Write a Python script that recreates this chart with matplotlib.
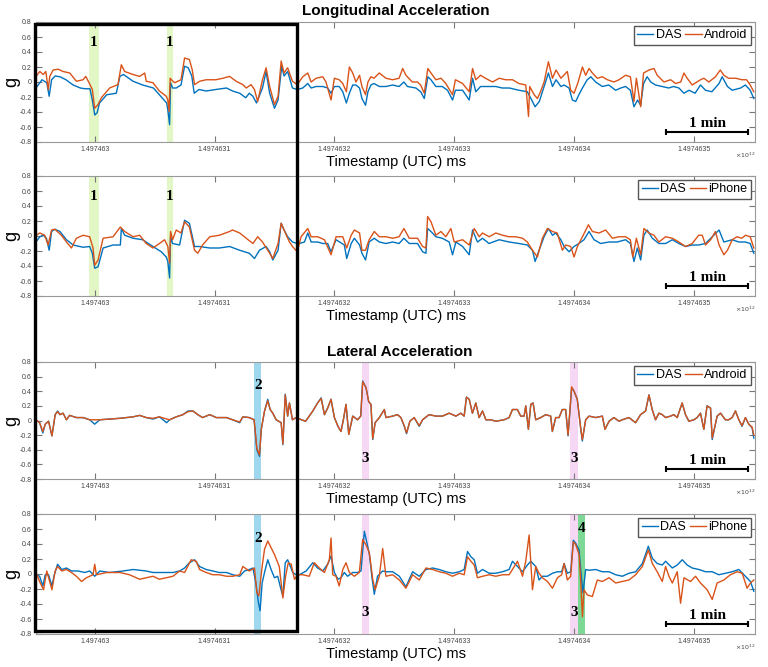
import numpy as np
import matplotlib.pyplot as plt
from matplotlib.patches import Rectangle

plt.rcParams['font.family'] = ['Liberation Sans', 'DejaVu Sans']

# time axis: seconds after T0 (ms)
T0 = 1.497463e12
x_ticks_s = [0, 100, 200, 300, 400, 500]
y_ticks = [-0.8, -0.6, -0.4, -0.2, 0, 0.2, 0.4, 0.6, 0.8]

# ---- Longitudinal, DAS vs Android ----
lon_and_das_t = [-49, -44, -40, -38, -36, -33, -29, -24, -18, -12, -8, -4, -2, 0, 2, 4, 10, 18, 21, 24,
                 32, 40, 49, 54, 60, 61, 62.5, 63.3, 65, 68, 72, 75, 78, 81, 83, 87, 93, 101, 110, 115,
                 121, 126, 129, 132, 135, 140, 143, 146, 150, 153, 156, 158, 161, 165, 169,
                 173.6, 177.8, 180.6, 184.7, 190.3, 194.4, 197.2, 200, 204, 207, 210, 212.5, 215.3, 218, 221,
                 223, 226, 228, 230.5, 233, 237.5, 243, 248.6, 254, 258, 261, 268, 272, 275, 278, 280.6,
                 284.7, 290, 294.4, 298.6, 301, 307, 312.5, 315.3, 318, 322, 329, 334.7, 340, 346, 354, 361,
                 364, 367.5, 371, 375, 378.6, 382, 385, 389, 391.7, 395.8, 398.6, 401.4, 404, 407, 411, 414,
                 418, 423.6, 429, 434.7, 439, 443, 447, 450, 453, 455.6, 458, 461, 464, 468, 473.6, 479, 483,
                 487.5, 491.7, 496, 501, 505.5, 509.7, 515, 521, 523.6, 528, 532, 539, 543, 547, 550]
lon_and_das_g = [-0.08, 0.03, -0.01, -0.19, 0.03, 0.08, 0.07, 0.03, -0.04, -0.08, -0.09, -0.09, -0.24, -0.44,
                 -0.41, -0.28, -0.17, -0.15, 0.075, 0.1, 0.01, -0.04, -0.08, -0.17, -0.28, -0.37, -0.57, -0.01,
                 -0.08, -0.08, -0.04, 0.21, 0.19, 0.08, -0.15, -0.1, -0.12, -0.1, -0.08, -0.12, -0.15, -0.21,
                 -0.15, -0.19, -0.28, -0.08, 0.14, -0.15, -0.35, -0.24, 0.21, 0.08, 0.14, -0.08, -0.1,
                 -0.08, -0.02, -0.08, -0.06, -0.06, -0.08, -0.15, -0.06, -0.06, -0.13, -0.28, -0.15, -0.04,
                 -0.04, -0.08, -0.22, -0.31, -0.13, -0.04, -0.02, -0.06, -0.06, -0.04, -0.06, 0.0, -0.06,
                 -0.08, -0.13, -0.22, 0.07, 0.03, -0.06, -0.06, -0.11, -0.24, -0.11, -0.11, -0.24, 0.05,
                 -0.13, -0.06, -0.06, -0.06, -0.08, -0.08, -0.11, -0.13, -0.22, -0.33, -0.26, -0.06, 0.12,
                 -0.06, 0.03, -0.06, -0.04, -0.08, -0.24, -0.26, -0.17, -0.08, 0.03, 0.07, 0.0, -0.06, -0.04,
                 -0.11, -0.08, -0.06, -0.11, -0.33, -0.24, -0.31, -0.02, 0.07, 0.0, -0.04, -0.06, -0.08,
                 -0.06, -0.08, -0.15, -0.11, -0.15, -0.04, -0.11, -0.13, -0.02, 0.07, -0.06, -0.11, -0.08,
                 -0.04, -0.11, -0.22]
lon_and_t = [-49, -45.8, -43, -40.8, -38.8, -37.5, -34.7, -30.5, -26.4, -20.8, -15.3, -9.7, -7.5, -4.7, -2,
             0, 2.8, 5.5, 12.5, 19.4, 22.2, 25, 32, 37.5, 41.7, 43, 48.6, 54, 59.7, 61, 62, 63, 64, 66.7, 72,
             75, 79, 81.4, 83.3, 87.5, 93, 101, 107, 112.5, 118, 123.6, 126.4, 130.5, 133.3, 136, 140, 143,
             146, 150, 153, 155.6, 158, 161, 165, 169,
             173.6, 177.8, 180.6, 184.7, 190.3, 193, 197.2, 200, 204, 207, 210, 212.5, 215.3, 218, 221, 223,
             226, 228, 230.5, 233, 237.5, 243, 248.6, 254, 257, 259.7, 265, 269.4, 272, 275, 278, 280.6,
             284.7, 289, 293, 298.6, 301, 307, 312.5, 315.3, 318, 322, 326, 332, 337.5, 343, 348.6, 354,
             359.7, 362, 363, 366.7, 369.4, 372, 375, 378.6, 382, 385, 389,
             394.4, 397.2, 400, 403, 407, 409.7, 412.5, 415.3, 419.4, 423.6, 427.8, 433.3, 437.5, 443, 447,
             450, 452, 455.6, 458, 462.5, 466.7, 469.4, 475, 480.6, 484.7, 489, 491.7, 494.4, 498.6, 505.5,
             508.3, 512.5, 518, 522, 525, 529, 535, 540, 544, 547, 550]
lon_and_g = [0.075, 0.14, 0.1, 0.14, -0.1, 0.075, 0.16, 0.17, 0.14, 0.12, 0.01, 0.03, 0.075, -0.01, -0.1,
             -0.35, -0.3, -0.21, -0.08, -0.035, 0.23, 0.14, 0.1, 0.075, 0.12, 0.01, -0.01, -0.12, -0.19, -0.24,
             -0.39, 0.05, 0.03, -0.01, 0.03, 0.32, 0.3, 0.16, -0.035, 0.01, 0.03, 0.03, 0.05, 0.075, 0.01,
             -0.035, -0.08, -0.035, -0.1, -0.26, 0.03, 0.19, -0.06, -0.3, -0.19, 0.28, 0.12, 0.19, 0.01, -0.035,
             0.07, 0.12, 0.0, 0.05, 0.07, 0.0, -0.24, 0.05, 0.03, -0.02, -0.13, 0.2, 0.12, 0.0, 0.09, -0.06,
             -0.17, 0.0, 0.07, 0.05, 0.12, 0.05, 0.03, 0.05, 0.18, 0.09, 0.0, 0.0, -0.04, -0.15, 0.18, 0.12,
             0.03, 0.05, -0.02, -0.17, 0.03, -0.02, -0.13, 0.18, 0.03, 0.09, 0.05, 0.0, 0.05, 0.03, 0.03,
             -0.02, -0.04, -0.46, -0.06, -0.17, -0.22, -0.13, 0.0, 0.27, 0.05, 0.16, 0.05,
             0.14, -0.11, -0.15, -0.02, 0.2, 0.09, 0.18, 0.12, 0.05, 0.07, 0.03, 0.0, 0.03, 0.09, 0.07, -0.26,
             0.05, -0.33, 0.12, 0.16, 0.18, 0.09, 0.0, 0.03, -0.02, 0.0, 0.12, 0.05, -0.04, 0.03, 0.05, 0.0,
             0.07, 0.16, 0.09, 0.05, 0.05, 0.03, 0.03, -0.04, -0.13]

# ---- Longitudinal, DAS vs iPhone ----
lon_iph_das_t = [-49, -45.8, -43, -40.3, -38, -36, -33.3, -29, -23.6, -18, -9.7, -4.2, -2, 0, 2.8, 7, 15.3,
                 21.4, 22.2, 25, 32, 40, 48.6, 55.5, 59.7, 61, 62.5, 63.3, 65, 70.8, 75, 79, 83.3, 87.5, 96,
                 104, 112.5, 121, 129, 133.3, 137.5, 143, 146, 148.6, 153, 155.6, 158, 161, 165, 169,
                 170.8, 175, 177.8, 180.6, 186, 190.3, 194.4, 197.2, 201.4, 208.3, 210.3, 214, 216.7, 221, 223,
                 226, 229, 233.3, 237.5, 243, 248.6, 254, 258, 262.5, 269.4, 273.6, 276.4, 277.8, 280.6, 284.7,
                 290, 295.8, 298.6, 301.4, 307, 312.5, 315.3, 319.4, 323.6, 329, 337.5, 345.8, 354, 361, 365.3,
                 367.5, 370.8, 375, 378.6, 382, 384.7, 389,
                 391.7, 395.8, 400, 404, 408.3, 412.5, 416.7, 422.2, 429.2, 436, 443, 447, 450, 452.8, 455.6,
                 458.3, 461, 465.3, 470.8, 476.4, 482, 487.5, 493, 498.6, 504, 509.7, 515.3, 521, 525, 532,
                 537.5, 543, 547, 550]
lon_iph_das_g = [-0.08, -0.01, 0.01, -0.03, -0.19, 0.06, 0.09, 0.06, -0.05, -0.12, -0.15, -0.14, -0.23, -0.43,
                 -0.41, -0.16, -0.12, -0.12, 0.1, 0.01, -0.03, -0.05, -0.14, -0.21, -0.28, -0.34, -0.56, -0.01,
                 -0.1, -0.12, 0.21, 0.17, -0.14, -0.14, -0.16, -0.16, -0.14, -0.19, -0.23, -0.3, -0.19, -0.14,
                 -0.21, -0.32, -0.19, 0.17, 0.08, -0.01, -0.08, -0.1,
                 -0.1, -0.08, 0.04, -0.08, -0.08, -0.1, -0.1, -0.21, -0.05, -0.12, -0.3, -0.1, -0.03, -0.12,
                 -0.23, -0.32, -0.08, -0.03, -0.08, -0.1, -0.08, -0.1, -0.03, -0.1, -0.1, -0.21, -0.23, 0.1,
                 0.06, -0.01, -0.03, -0.08, -0.25, -0.08, -0.14, -0.25, 0.08, -0.08, -0.03, -0.1, -0.05, -0.08,
                 -0.1, -0.12, -0.19, -0.34, -0.19, -0.01, 0.1, 0.01, 0.04, -0.05,
                 -0.14, -0.21, -0.14, -0.1, -0.05, 0.06, -0.05, -0.1, -0.08, -0.08, -0.05, -0.1, -0.34, -0.16,
                 -0.32, 0.01, 0.08, -0.03, -0.1, -0.1, -0.05, -0.1, -0.14, -0.12, -0.12, -0.1, -0.01, 0.08,
                 -0.08, -0.05, -0.08, -0.08, -0.1, -0.23]
lon_iph_t = [-49, -45.8, -41.7, -38.9, -36, -33.3, -27.8, -23.6, -19.4, -15.3, -9.7, -4.2, -1.4, 0, 2.8, 7,
             15.3, 21.4, 25, 32, 37.5, 43, 48.6, 54, 58.3, 61, 62.5, 63.3, 65, 68, 72, 75, 79, 83.3, 86, 90,
             96, 104, 112.5, 115, 121, 126.4, 132, 136, 140, 146, 148.6, 153, 155.6, 158, 162.5, 165, 169,
             172.2, 177.8, 180.6, 186, 191.7, 197.2, 201.4, 207, 210.3, 214, 216.7, 221, 223, 226, 229, 233.3,
             237.5, 243, 248.6, 254, 258, 262.5, 269.4, 273.6, 276.4, 277.8, 280.6, 284.7, 288.9, 293, 297.2,
             300, 307, 312.5, 316.7, 320.8, 323.6, 329.2, 334.7, 340.3, 345.8, 351.4, 357, 361, 365.3, 369.4,
             373.6, 377.8, 382, 386,
             390.3, 393, 397.2, 400, 402.8, 407, 412, 415.3, 420.8, 426.4, 432, 437.5, 443, 447, 449, 452,
             455.6, 458.3, 462.5, 466.7, 470.8, 476.4, 482, 487.5, 493, 498.6, 504, 507, 509.7, 514, 518, 521,
             525, 528, 532, 536, 540, 543, 547, 550]
lon_iph_g = [0.01, 0.04, 0.01, -0.12, 0.08, 0.09, 0.01, -0.08, -0.16, -0.03, 0.01, -0.01, -0.16, -0.39, -0.32,
             -0.03, -0.01, 0.12, 0.06, -0.01, 0.01, -0.1, -0.16, -0.1, -0.05, -0.14, -0.36, 0.06, -0.05, 0.08,
             0.04, 0.19, 0.12, -0.19, -0.23, -0.12, -0.01, 0.01, 0.06, 0.08, 0.04, -0.03, -0.1, -0.01, -0.08,
             -0.23, -0.3, -0.1, 0.17, 0.08, -0.08, -0.14, -0.21,
             -0.01, 0.1, -0.01, -0.01, -0.05, -0.25, -0.01, -0.01, -0.16, 0.01, 0.08, 0.04, -0.19, -0.19,
             -0.05, 0.06, -0.01, -0.01, -0.03, -0.01, 0.1, -0.03, -0.03, -0.14, -0.16, 0.26, 0.19, 0.01, 0.06,
             -0.01, 0.1, -0.08, -0.05, -0.12, 0.1, -0.01, 0.04, -0.01, 0.04, 0.01, -0.01, -0.01, -0.03, -0.08,
             -0.19, -0.28, -0.03, 0.1, 0.06, 0.04,
             -0.19, -0.12, -0.14, -0.28, -0.14, -0.01, 0.15, 0.06, 0.04, 0.08, -0.03, -0.01, -0.01, -0.05,
             -0.28, -0.03, -0.25, 0.1, 0.04, 0.01, -0.08, -0.01, -0.03, -0.08, -0.14, -0.1, 0.01, 0.01, -0.12,
             -0.05, 0.06, -0.12, -0.25, -0.19, -0.05, -0.01, -0.03, 0.01, -0.01, -0.16]

# ---- Lateral, DAS vs Android (same sample times) ----
lat_and_t = [-49, -46, -43.3, -41.3, -38.5, -35.7, -33, -31, -29, -26.4, -23.6, -21, -15.3, -9.7, -4.2, 0,
             4.2, 12.5, 21, 32, 37.5, 43, 48.6, 54, 60, 62.5, 68, 73.6, 77.8, 82, 86, 90, 96, 101.4, 110, 115,
             121, 123.6, 129, 133, 135.3, 137.5, 139, 141.7, 144.4, 146.4, 148.6, 151.4, 155.6, 157, 159, 161,
             162.5, 165, 168, 172.5, 176, 182, 186, 189, 191.7, 194.4, 197.2, 200, 203, 205.5, 207.5, 209.7,
             212, 215.3, 219.4, 222, 223.6, 226.4, 228.6, 230.5, 232, 234, 237.5, 241.7, 243, 248.6,
             252.7, 255.5, 258.3, 260.2, 263, 266.6, 270.8, 273.6, 279, 284.7, 290.2, 295.8, 301.4, 305.5,
             308.3, 310.2, 312.5, 315.2, 318, 320.8, 323.6, 326.4, 330.5, 334.7, 341.6, 345.8, 348.6, 352.7,
             355.5, 358.3, 359.7, 361.9, 363.9, 365.8, 368, 372.2, 376.4, 380.5, 381.9, 384.7, 387.5, 390.2,
             393, 395, 398, 400, 402.7, 405.5, 406.9, 409.7, 412.5, 418, 423.6, 425.8, 429.2, 433.3, 437.5,
             440.2, 445.8, 451.3, 455.5, 459.7, 462.5, 465.2, 468, 470.8, 473.6, 476.4, 480.5, 483.3, 486.1,
             490.2, 493, 495.8, 500, 502.7, 505.5, 508.3, 511, 513.9, 515.3, 519.4, 522.2, 526.3, 529.1,
             531.9, 534.7, 537.5, 540.2, 543, 545.8, 548.6, 550]
lat_and_das_g = [0.01, -0.03, -0.17, -0.05, -0.01, -0.21, 0.08, 0.13, 0.08, 0.1, 0.01, 0.07, 0.04, 0.04, 0.01,
                 -0.05, 0.01, 0.02, 0.03, 0.05, 0.07, 0.04, 0.02, 0.05, -0.03, 0.01, 0.05, 0.08, 0.13, 0.13,
                 0.08, 0.04, 0.08, 0.04, 0.04, 0.01, -0.03, 0.05, 0.04, 0.01, -0.4, -0.49, -0.12, 0.13, 0.29,
                 0.15, 0.1, 0.01, -0.03, -0.33, 0.36, 0.06, 0.24, 0.01, 0.04, 0.01, -0.01, 0.13, 0.24, 0.31,
                 0.08, 0.17, 0.29, 0.04, -0.08, -0.15, 0.01, 0.22, -0.19, 0.06, 0.01, 0.06, 0.54, 0.45, 0.26,
                 0.22, -0.26, -0.03, 0.04, 0.15, 0.04, 0.06,
                 0.08, 0.04, -0.08, -0.18, -0.01, 0.04, -0.08, 0.01, 0.08, 0.06, 0.06, 0.1, 0.06, 0.1, 0.06,
                 0.32, 0.29, 0.1, 0.24, 0.04, 0.13, 0.01, 0.01, -0.01, 0.01, 0.04, 0.15, 0.15, 0.06, 0.06, 0.2,
                 -0.12, 0.22, 0.24, 0.01, 0.04, 0.08, 0.06, -0.15, 0.04, 0.04, 0.15, 0.15, -0.21, 0.45, 0.4,
                 0.29, -0.1, -0.28, 0.01, 0.06, 0.04, 0.06, -0.12, -0.01, 0.04, -0.01, 0.01, 0.04, -0.03, 0.08,
                 0.13, 0.35, 0.15, 0.01, 0.1, 0.08, 0.04, 0.06, 0.08, 0.04, 0.24, 0.08, -0.01, 0.01, 0.04, 0.1,
                 -0.12, 0.2, 0.17, -0.26, 0.06, 0.1, 0.01, 0.01, 0.04, 0.13, 0.01, -0.08, 0.04, -0.05, -0.1,
                 -0.24]
lat_and_g = [0.01, -0.03, -0.15, -0.05, -0.01, -0.21, 0.08, 0.12, 0.08, 0.1, 0.01, 0.07, 0.04, 0.04, 0.01,
             0.01, 0.01, 0.02, 0.03, 0.05, 0.07, 0.04, 0.03, 0.05, 0.02, 0.01, 0.05, 0.08, 0.12, 0.13, 0.08,
             0.04, 0.08, 0.04, 0.04, 0.01, -0.02, 0.05, 0.04, 0.01, -0.38, -0.47, -0.12, 0.13, 0.27, 0.15, 0.1,
             0.01, -0.03, -0.32, 0.35, 0.06, 0.24, 0.01, 0.04, 0.01, -0.01, 0.13, 0.24, 0.3, 0.08, 0.17, 0.29,
             0.04, -0.08, -0.15, 0.01, 0.22, -0.19, 0.06, 0.01, 0.06, 0.53, 0.45, 0.26, 0.22, -0.25, -0.03,
             0.04, 0.15, 0.04, 0.06,
             0.08, 0.04, -0.07, -0.17, -0.01, 0.04, -0.07, 0.01, 0.08, 0.06, 0.06, 0.1, 0.06, 0.1, 0.06, 0.32,
             0.29, 0.1, 0.24, 0.04, 0.13, 0.01, 0.01, -0.01, 0.01, 0.04, 0.15, 0.15, 0.06, 0.06, 0.2, -0.12,
             0.22, 0.24, 0.01, 0.04, 0.08, 0.06, -0.15, 0.04, 0.04, 0.15, 0.15, -0.2, 0.46, 0.4, 0.29, -0.1,
             -0.26, 0.01, 0.06, 0.04, 0.06, -0.12, -0.01, 0.04, -0.01, 0.01, 0.04, -0.03, 0.08, 0.13, 0.35,
             0.15, 0.01, 0.1, 0.08, 0.04, 0.06, 0.08, 0.04, 0.24, 0.08, -0.01, 0.01, 0.04, 0.1, -0.12, 0.2,
             0.17, -0.24, 0.06, 0.1, 0.01, 0.01, 0.04, 0.13, 0.01, -0.07, 0.04, -0.05, -0.09, -0.2]

# ---- Lateral, DAS vs iPhone ----
lat_iph_das_t = [-49, -46, -43.3, -41.3, -38.5, -35.7, -33.7, -31, -27.5, -23.6, -19.4, -13.9, -8.3, -4.2, 0,
                 4.2, 12.5, 23.6, 32, 37.5, 43, 48.6, 54, 59.7, 65.3, 70.8, 75, 79, 83.3, 87.5, 93, 98.6, 104,
                 110, 115.3, 121, 125, 129, 132, 134.7, 136.6, 138, 139.7, 141.7, 144.4, 147.2, 150, 152.7,
                 155.5, 157, 159, 161, 162.5, 165.3, 168, 170.8, 176.4, 182, 186, 190.3, 194.4, 197.2, 200,
                 203, 205.5, 208.3, 211, 215.3, 219.4, 222.2, 225, 227.8, 229.2, 231.4, 233.3, 236, 240.3,
                 243, 248.6, 254.2, 259.7, 265.3, 270.8, 276.4, 282, 287.5, 293, 298.6, 304.2, 308.3, 311.1,
                 313.9, 316.7, 319.4, 323.6, 329.2, 334.7, 340.3, 345.8, 348.6, 352.8, 357, 361.1, 363.9, 368,
                 370.8, 373.6, 377.8, 382, 386.1, 389.7, 391.7, 394.4, 397.2, 399.4, 401.4, 404.2, 405.5,
                 407.5, 409.7, 412.5, 418, 423.6, 429.2, 434.7, 440.3, 445.8, 451.4, 457, 462, 465.3, 469.4,
                 473.6, 476.4, 482, 486.1, 490.3, 494.4, 498.6, 504.2, 509.7, 515.3, 520.8, 526.4, 532, 537.5,
                 543, 547.2, 550]
lat_iph_das_g = [-0.01, -0.03, -0.16, -0.01, -0.01, -0.16, -0.01, 0.13, 0.06, 0.08, 0.04, 0.04, 0.02, 0.04,
                 -0.03, 0.04, 0.02, 0.04, 0.06, 0.05, 0.04, 0.02, 0.02, 0.02, 0.02, 0.04, 0.08, 0.15, 0.19,
                 0.1, 0.06, 0.04, 0.02, 0.02, -0.01, -0.03, 0.04, 0.06, 0.08, -0.14, -0.38, -0.49, -0.12,
                 0.02, 0.19, 0.06, -0.05, -0.03, -0.21, -0.29, 0.15, 0.19, 0.13, 0.02, -0.01, -0.01, 0.04,
                 0.15, 0.08, 0.04, 0.13, 0.24, 0.02, -0.07, -0.05, 0.02, -0.03, 0.02, 0.02, 0.04, 0.57, 0.37,
                 0.26, -0.05, -0.27, -0.03, 0.04,
                 0.03, 0.03, -0.03, -0.17, 0.03, -0.03, 0.06, 0.08, 0.06, 0.03, 0.01, 0.03, 0.06, 0.3, 0.23,
                 0.19, 0.01, 0.06, 0.01, 0.01, 0.03, 0.06, 0.17, 0.1, 0.03, 0.12, 0.17, 0.1, -0.08, -0.03,
                 -0.03, 0.01, 0.03, 0.03, 0.14, 0.01, 0.03, 0.45, 0.41, 0.32, 0.06, -0.25, 0.06, 0.05, 0.06,
                 0.03, 0.03, -0.01, -0.03, 0.01, 0.03, 0.14, 0.37, 0.21, 0.14, 0.12, 0.17, 0.08, 0.12, 0.19,
                 0.12, 0.08, 0.06, 0.03, 0.03, -0.01, 0.01, 0.03, 0.06, -0.03, -0.1, -0.23]
lat_iph_t = [-49, -46, -42.7, -40, -35.7, -33, -31, -27.5, -23.6, -19.4, -15.3, -11, -7, -1.4, 0, 1.4, 10, 21,
             29, 37.5, 43, 48.6, 54, 59.7, 65.3, 70.8, 75, 80.5, 84.7, 87.5, 93, 98.6, 104, 110, 115.3, 121,
             123.6, 129, 133.3, 135.3, 137, 139.7, 141.7, 144.4, 147.2, 150, 154, 157, 159.3, 161.5, 164,
             166.7, 169.4, 173.6, 179, 183.3, 187.5, 191.7, 195.8, 197.2, 198.6, 201.4, 204, 207, 209.7, 212.5,
             216.7, 220.8, 223.6, 226.4, 229.2, 232, 234, 237.5,
             240.3, 243, 248.6, 254.2, 259.7, 265.3, 270.8, 276.4, 282, 287.5, 293, 298.6, 304.2, 308.3, 311.1,
             313.9, 316.7, 319.4, 323.6, 329.2, 334.7, 340.3, 345.8, 348.6, 352.8, 357, 359.7, 362.5, 365.3,
             368, 370.8, 373.6, 377.8, 382, 386.1, 389.7, 391.7, 394.4, 397.2, 399.4, 401.4, 404.2, 405.5,
             407, 408.3, 411.1, 415.3, 419.4, 423.6, 429.2, 434.7, 440.3, 445.8, 451.4, 457, 462, 465.3, 469.4,
             473.6, 476.4, 479.2, 482, 486.1, 488.9, 491.7, 497.2, 501.4, 505.5, 511.1, 515.3, 519.4, 525,
             530.5, 536.1, 540.3, 544.4, 547.2, 550]
lat_iph_g = [0.02, -0.1, -0.21, 0.04, -0.21, 0.04, 0.1, 0.04, 0.06, 0.02, -0.03, -0.1, -0.05, -0.01, 0.13,
             -0.01, 0.02, 0.02, -0.01, -0.07, -0.05, -0.03, -0.07, -0.05, -0.03, 0.04, 0.02, 0.19, 0.17, 0.06,
             0.02, -0.01, -0.01, -0.03, -0.03, -0.01, 0.1, 0.04, 0.08, -0.25, -0.29, 0.1, 0.33, 0.44, 0.35,
             0.26, 0.1, -0.32, -0.03, 0.15, 0.13, -0.07, -0.01, -0.01, -0.03, 0.15, 0.08, 0.02, 0.19, 0.48,
             -0.01, -0.03, -0.16, 0.06, 0.15, 0.02, -0.03, 0.02, 0.46, 0.39, 0.28, -0.07, -0.21, -0.03,
             0.34, -0.03, -0.01, -0.08, -0.19, -0.01, -0.08, 0.08, 0.06, 0.03, 0.01, -0.03, 0.01, -0.01, 0.23,
             0.17, 0.12, -0.05, -0.03, -0.01, -0.03, -0.01, -0.01, 0.06, 0.17, -0.03, 0.17, 0.52, -0.21, 0.1,
             0.01, -0.05, -0.1, -0.19, -0.05, -0.01, 0.14, -0.08, -0.03, 0.43, 0.39, 0.26, -0.08, -0.57,
             -0.21, -0.28, -0.3, -0.08, -0.1, -0.05, -0.12, -0.1, -0.08, -0.01, 0.1, 0.32, 0.14, 0.03, -0.1,
             0.1, -0.03, -0.12, 0.03, -0.39, -0.05, -0.1, -0.03, -0.12, -0.21, -0.34, -0.12, -0.08, -0.01,
             0.03, 0.01, -0.19, -0.12, -0.08]

# highlighted events: (start s, end s)
green1 = [(-5, 3.5), (60, 65.5)]
band2 = (133, 139)
band3 = [(223, 229), (396.5, 403.5)]
band4 = (403.5, 409.5)

BLUE = '#0072BD'
ORANGE = '#D95319'


def ms(t):
    return T0 + 1000 * np.asarray(t, dtype=float)


fig = plt.figure(figsize=(7.68, 6.67), dpi=100)
W, H = 768, 667
boxes = [(36, 22, 755, 142), (36, 176, 755, 296), (36, 362, 755, 479), (36, 514, 755, 634)]
axes = [fig.add_axes([l / W, 1 - b / H, (r - l) / W, (b - t) / H]) for l, t, r, b in boxes]

panels = [
    (lon_and_das_t, lon_and_das_g, lon_and_t, lon_and_g, 'Android'),
    (lon_iph_das_t, lon_iph_das_g, lon_iph_t, lon_iph_g, 'iPhone'),
    (lat_and_t, lat_and_das_g, lat_and_t, lat_and_g, 'Android'),
    (lat_iph_das_t, lat_iph_das_g, lat_iph_t, lat_iph_g, 'iPhone'),
]

num_font = dict(family='Liberation Serif', fontweight='bold', fontsize=11, ha='center', va='center')

for i, (ax, (dt, dg, pt, pg, phone)) in enumerate(zip(axes, panels)):
    # shaded events
    if i < 2:
        for a, b in green1:
            ax.axvspan(ms(a), ms(b), color='#e2f6c6', lw=0)
            ax.text(ms((a + b) / 2), 0.53, '1', **num_font)
    else:
        a, b = band2
        ax.axvspan(ms(a), ms(b), color='#9fd8ee', lw=0)
        ax.text(ms((a + b) / 2), 0.48, '2', **num_font)
        for a, b in band3:
            ax.axvspan(ms(a), ms(b), color='#f6d8f4', lw=0)
            ax.text(ms((a + b) / 2), -0.52, '3', **num_font)
        if i == 3:
            a, b = band4
            ax.axvspan(ms(a), ms(b), color='#7dd895', lw=0)
            ax.text(ms((a + b) / 2), 0.6, '4', **num_font)

    ax.plot(ms(dt), dg, color=BLUE, lw=1.0, label='DAS')
    ax.plot(ms(pt), pg, color=ORANGE, lw=1.0, label=phone)

    ax.set_xlim(ms(-49), ms(551))
    ax.set_ylim(-0.8, 0.8)
    ax.set_yticks(y_ticks)
    ax.set_yticklabels([f"{v:g}" for v in y_ticks])
    ax.set_xticks(ms(x_ticks_s))
    ax.set_xticklabels([f"{v / 1e12:.8g}" for v in ms(x_ticks_s)])
    ax.tick_params(direction='in', top=True, right=True, labelsize=5, length=4,
                   color='#777777', labelcolor='#444444', pad=3)
    for s in ax.spines.values():
        s.set_color('#999999')
        s.set_linewidth(0.8)
    ax.set_xlabel('Timestamp (UTC) ms', fontsize=10.5, labelpad=1)
    ax.set_ylabel('g', fontsize=13)
    ax.yaxis.set_label_coords(-0.022, 0.5)
    ax.text(1.0, -0.115, r'$\times10^{12}$', transform=ax.transAxes, ha='right', va='center',
            fontsize=4.5, color='#444444')

    # 1 minute scale bar
    ax.plot(ms([477, 545]), [-0.66, -0.66], color='k', lw=1.5, marker='|', ms=5, mew=1.5)
    ax.text(ms(511), -0.55, '1 min', family='Liberation Serif', fontweight='bold', fontsize=11,
            ha='center', va='center')

    ax.legend(loc='upper right', ncol=2, fontsize=9, handlelength=1.3, handletextpad=0.2,
              columnspacing=0.3, borderpad=0.25, borderaxespad=0.35, fancybox=False,
              edgecolor='#555555', framealpha=1)

fig.text(0.516, 1 - 11 / H, 'Longitudinal Acceleration', ha='center', va='center',
         fontsize=11, fontweight='bold')
fig.text(0.52, 1 - 352 / H, 'Lateral Acceleration', ha='center', va='center',
         fontsize=11, fontweight='bold')

fig.add_artist(Rectangle((35 / W, 1 - 631 / H), (297 - 35) / W, (631 - 24) / H,
                         transform=fig.transFigure, fill=False, ec='k', lw=2.4, zorder=20))

fig.savefig('out.png', dpi=100)
